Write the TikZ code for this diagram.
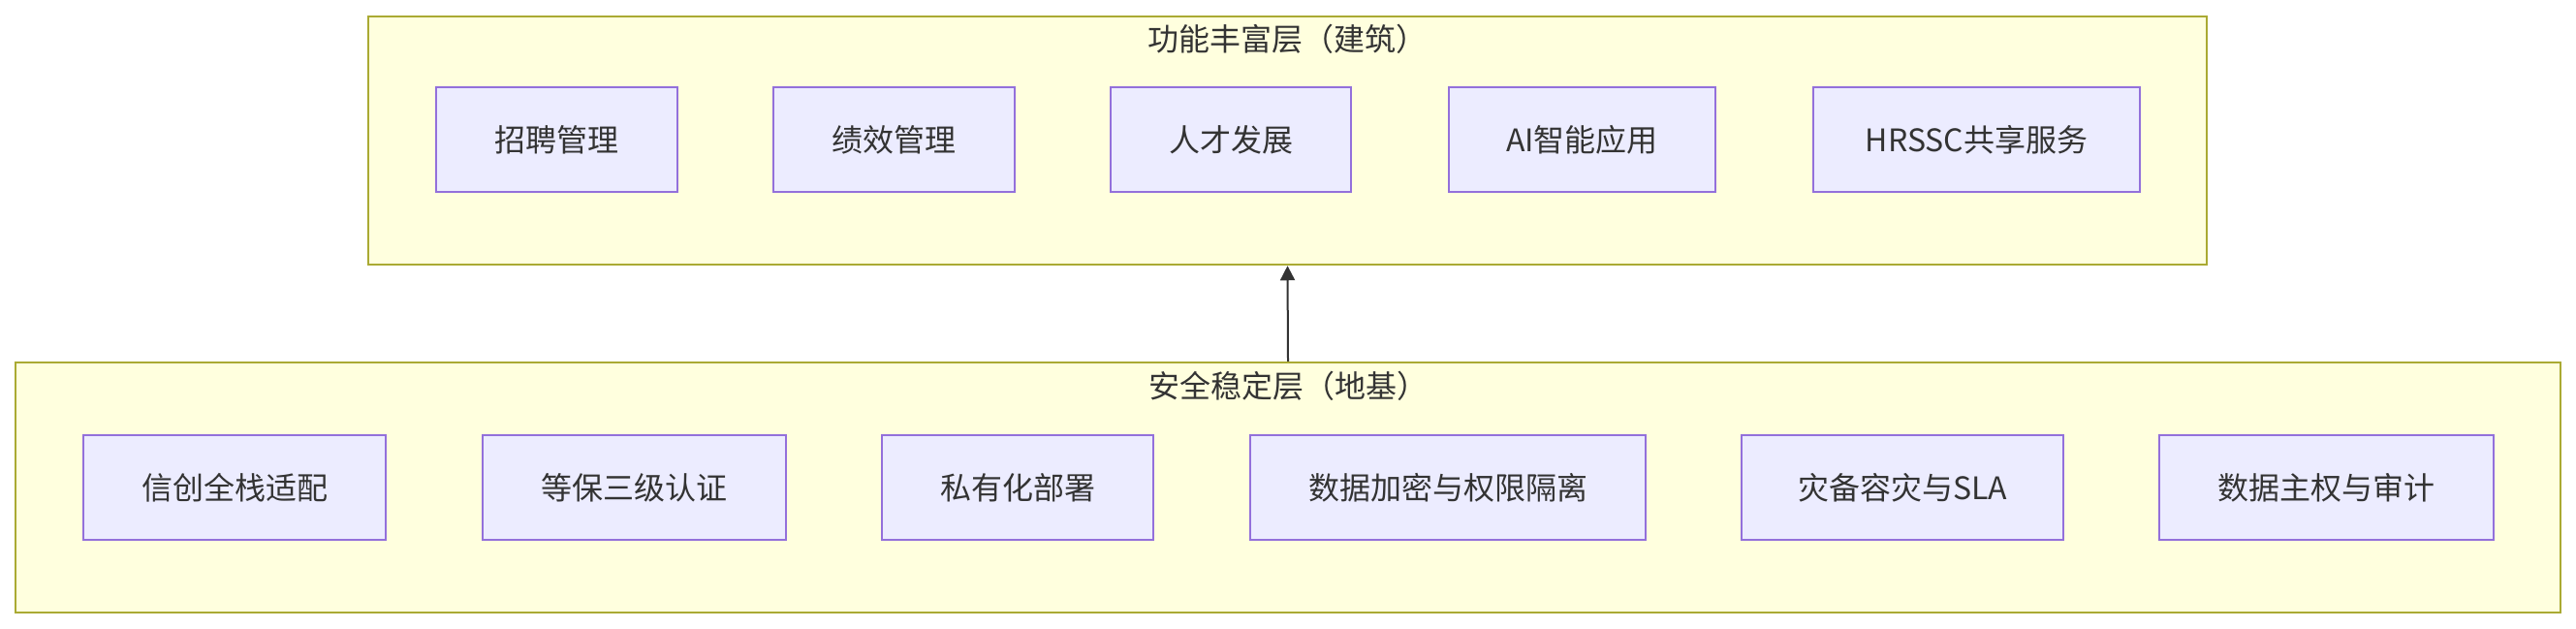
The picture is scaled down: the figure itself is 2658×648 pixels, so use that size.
\documentclass[tikz,border=0pt]{standalone}
\usepackage{fontspec}
\setmainfont{Noto Sans CJK SC}
\usetikzlibrary{arrows.meta}
\definecolor{layerfill}{HTML}{FFFFDE}
\definecolor{layerborder}{HTML}{AAAA33}
\definecolor{itemfill}{HTML}{ECECFF}
\definecolor{itemborder}{HTML}{9370DB}
\definecolor{textcol}{HTML}{333333}
\begin{document}
\begin{tikzpicture}[x=1pt,y=-1pt,
  layer/.style={draw=layerborder, fill=layerfill, line width=2.5pt, rectangle, inner sep=0pt},
  item/.style={draw=itemborder, fill=itemfill, line width=2.5pt, rectangle, inner sep=0pt,
    minimum height=108pt, text=textcol, font=\fontsize{32pt}{38pt}\selectfont},
  title/.style={text=textcol, inner sep=0pt, font=\fontsize{32pt}{38pt}\selectfont},
  link/.style={draw=textcol, line width=2pt, -{Triangle[length=15pt,width=15pt]}}]
\useasboundingbox[fill=white] (0,0) rectangle (2658,648);
% layers
\node[layer, minimum width=1897pt, minimum height=256pt] (top) at (1328.5,145) {};
\node[layer, minimum width=2626pt, minimum height=258pt] (bot) at (1329,503) {};
\node[title] (toptitle) at (1328.5,40) {功能丰富层（建筑）};
\node[title] (bottitle) at (1329,398) {安全稳定层（地基）};
% top items
\node[item, minimum width=249pt] (t1) at (574.5,144) {招聘管理};
\node[item, minimum width=249pt] (t2) at (922.5,144) {绩效管理};
\node[item, minimum width=248pt] (t3) at (1270,144) {人才发展};
\node[item, minimum width=275pt] (t4) at (1632.5,144) {AI智能应用};
\node[item, minimum width=337pt] (t5) at (2039.5,144) {HRSSC共享服务};
% bottom items
\node[item, minimum width=312pt] (b1) at (242,503) {信创全栈适配};
\node[item, minimum width=313pt] (b2) at (654.5,503) {等保三级认证};
\node[item, minimum width=280pt] (b3) at (1050,503) {私有化部署};
\node[item, minimum width=408pt] (b4) at (1494,503) {数据加密与权限隔离};
\node[item, minimum width=332pt] (b5) at (1963,503) {灾备容灾与SLA};
\node[item, minimum width=345pt] (b6) at (2400.5,503) {数据主权与审计};
% connector
\draw[link] (bot.north) -- (top.south);
\end{tikzpicture}
\end{document}
